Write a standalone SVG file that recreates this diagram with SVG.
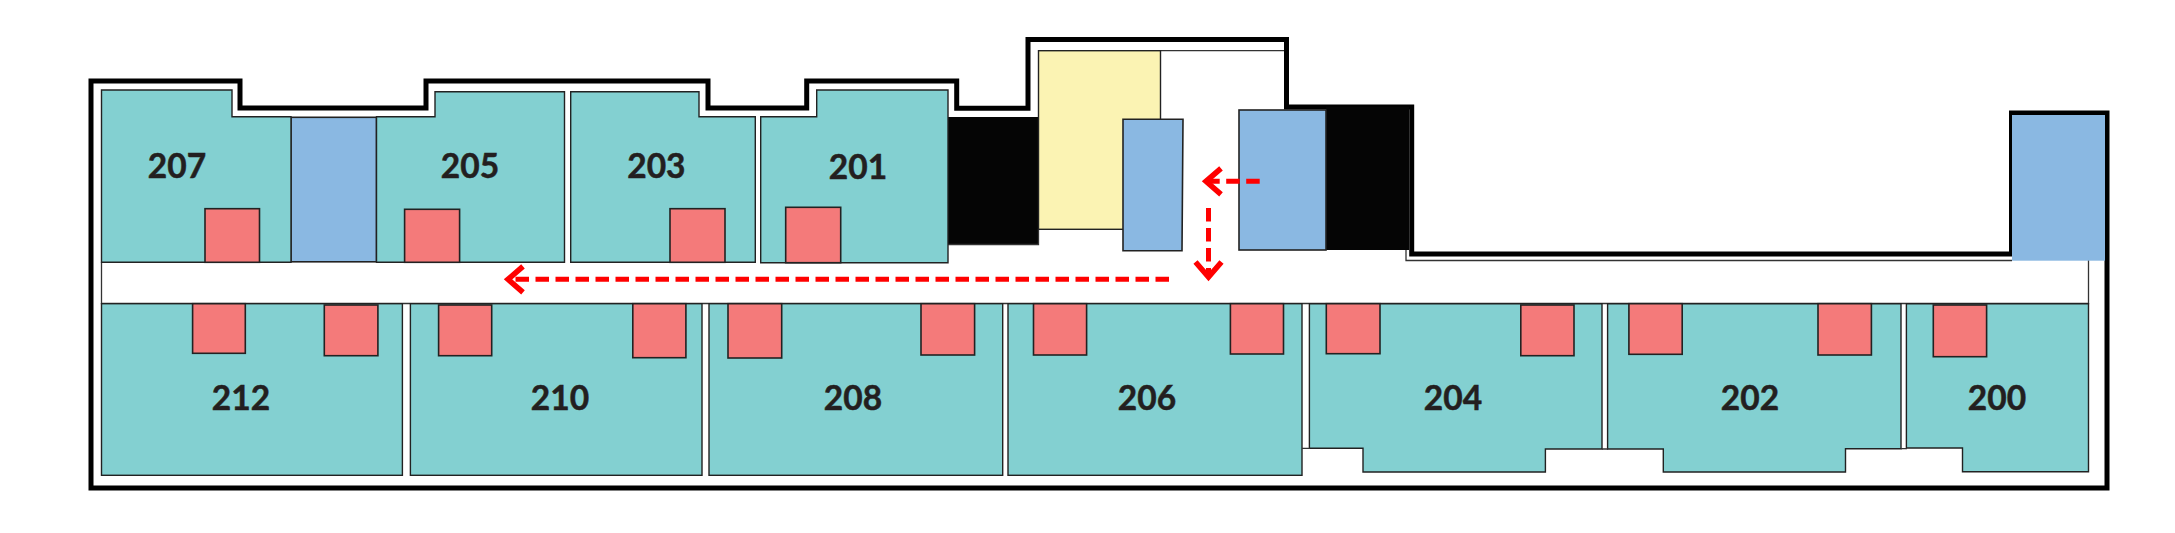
<svg xmlns="http://www.w3.org/2000/svg" width="2175" height="533" viewBox="0 0 2175 533">
<style>
.room{fill:#83d0d1;stroke:#222;stroke-width:1.4}
.door{fill:#f47a7a;stroke:#222;stroke-width:1.6}
.stair{fill:#8ab8e2;stroke:#222;stroke-width:1.6}
.core{fill:#050505;stroke:none}
.wall{fill:none;stroke:#000;stroke-width:5;stroke-linejoin:miter}
.thin{fill:none;stroke:#333;stroke-width:1.3}
.lbl{font-family:"Lato","Liberation Sans",sans-serif;font-weight:700;font-size:33.5px;fill:#231f20;stroke:#231f20;stroke-width:.5;text-anchor:middle}
.route{fill:none;stroke:#ff0000;stroke-width:5;stroke-dasharray:13.5 6.5}
</style>
<defs>
<marker id="head" markerUnits="userSpaceOnUse" markerWidth="40" markerHeight="40" refX="20" refY="20" orient="auto" viewBox="0 0 40 40">
<path d="M5,7 L20,20 L5,33" fill="none" stroke="#ff0000" stroke-width="5.5"/>
</marker>
</defs>
<rect width="2175" height="533" fill="#fff"/>
<g id="walls">
<path class="wall" d="M91,81 H240 V108 H426 V81 H708 V108 H806.7 V81 H956.7 V108.3 H1028 V39.5 H1286.5 V107 H1411.7 V254 H2011.5 V113 H2107 V488 H91 Z"/>
<path class="thin" d="M1160.6,50.7 H1284"/>
<path class="thin" d="M1406,250 V260.5 H2012"/>
<path class="thin" d="M101.5,262.5 V303.5 H2088.5 V260"/>
</g>
<g id="core-a"><rect class="core" x="948" y="117" width="90.5" height="127"/><path class="thin" d="M948,244.5 H1038.5 V229"/></g>
<g id="yellow-room"><rect x="1038.5" y="50.7" width="122" height="178.6" fill="#fbf3b3" stroke="#222" stroke-width="1.4"/></g>
<g id="core-b"><rect class="core" x="1326" y="106.7" width="83" height="143.3"/></g>
<g id="stair-1"><rect class="stair" x="291" y="117.3" width="85.5" height="144.5"/></g>
<g id="stair-2"><polygon class="stair" points="1123,119.3 1183,119.3 1182,250.7 1123,250.7"/></g>
<g id="stair-3"><rect class="stair" x="1239" y="110" width="87" height="140"/></g>
<g id="stair-4"><rect x="2012" y="115" width="93" height="145.7" fill="#8ab8e2"/></g>
<g id="room-207"><path class="room" d="M101.5,90 H232 V116.7 H291 V262.3 H101.5 Z"/><rect class="door" x="205" y="208.7" width="54.5" height="53.6"/><text class="lbl" x="177" y="178">207</text></g>
<g id="room-205"><path class="room" d="M376.5,116.7 H435 V91.7 H564.5 V262.3 H376.5 Z"/><rect class="door" x="404.6" y="209.3" width="55" height="53"/><text class="lbl" x="470" y="177.5">205</text></g>
<g id="room-203"><path class="room" d="M570.7,91.7 H699 V116.7 H755.3 V262.3 H570.7 Z"/><rect class="door" x="670" y="208.7" width="55" height="53.6"/><text class="lbl" x="656.4" y="177.5">203</text></g>
<g id="room-201"><path class="room" d="M760.7,116.7 H816.7 V90 H948 V262.7 H760.7 Z"/><rect class="door" x="785.7" y="207.3" width="55" height="55.4"/><text class="lbl" x="858" y="179">201</text></g>
<g id="room-212"><rect class="room" x="101.5" y="303.7" width="300.9" height="171.6"/><rect class="door" x="192.6" y="303.7" width="52.7" height="49.6"/><rect class="door" x="324.3" y="305" width="53.6" height="50.7"/><text class="lbl" x="241" y="410">212</text></g>
<g id="room-210"><rect class="room" x="410.4" y="303.7" width="291.6" height="171.6"/><rect class="door" x="438.6" y="305" width="53.1" height="50.7"/><rect class="door" x="632.8" y="303.7" width="53.1" height="54"/><text class="lbl" x="560" y="410">210</text></g>
<g id="room-208"><rect class="room" x="709" y="303.7" width="293.7" height="171.6"/><rect class="door" x="728" y="303.7" width="53.7" height="54.3"/><rect class="door" x="921" y="303.7" width="53.6" height="51.3"/><text class="lbl" x="853" y="410">208</text></g>
<g id="room-206"><rect class="room" x="1008" y="303.7" width="294" height="171.6"/><rect class="door" x="1033.5" y="303.7" width="53.1" height="51.3"/><rect class="door" x="1230.4" y="303.7" width="53.1" height="50.3"/><text class="lbl" x="1147" y="410">206</text></g>
<g id="room-204"><path class="room" d="M1309.4,303.7 H1602 V449 H1545.4 V472 H1363 V448.3 H1309.4 Z"/><rect class="door" x="1326.3" y="303.7" width="53.7" height="50"/><rect class="door" x="1520.8" y="305" width="53.2" height="50.7"/><text class="lbl" x="1453" y="410">204</text></g>
<g id="room-202"><path class="room" d="M1607.6,303.7 H1901 V448.7 H1845.5 V472 H1663.3 V449 H1607.6 Z"/><rect class="door" x="1628.9" y="303.7" width="53.3" height="50.6"/><rect class="door" x="1818" y="303.7" width="53.4" height="51.3"/><text class="lbl" x="1750" y="410">202</text></g>
<g id="room-200"><path class="room" d="M1906.4,303.7 H2088.5 V471.7 H1962.5 V448 H1906.4 Z"/><rect class="door" x="1933.3" y="305" width="53.3" height="51.7"/><text class="lbl" x="1997" y="410">200</text></g>
<g id="partitions">
<path class="thin" d="M1302,448.3 H1310 M1602,449 H1608 M1901,448.7 H1907"/>
</g>
<g id="connectors">
<path class="route" d="M1169,279.3 H508" marker-end="url(#head)"/>
<path class="route" d="M1259.7,181.3 H1206" marker-end="url(#head)"/>
<path class="route" d="M1208.5,208 V277" marker-end="url(#head)"/>
</g>
</svg>
